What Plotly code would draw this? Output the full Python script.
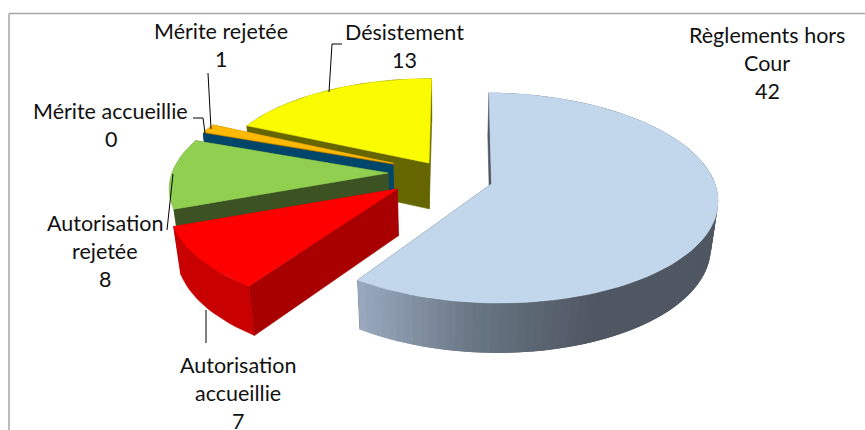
import math
import plotly.graph_objects as go

# ---- data, in the chart's clockwise order, starting at 12 o'clock
categories = ["Règlements hors\nCour", "Autorisation\naccueillie", "Autorisation\nrejetée",
              "Mérite accueillie", "Mérite rejetée", "Désistement"]
values = [42, 7, 8, 0, 1, 13]

# ---- per-slice styles
top_colors = ["#c3d7ec", "#ff0000", "#90cf50", "#00466a", "#ffb900", "#fbfb00"]
side_colors = ["#4f5762", "#a80000", "#3d5222", "#00466a", "#a07000", "#666600"]
rim_colors = [None, "#c80000", "#6a9a3a", "#00466a", "#a07000", "#666600"]
explode_u = [0.227, -0.187, -0.232, -0.212, -0.212, -0.050]
explode_v = [-0.067, -0.115, 0.039, 0.118, 0.135, 0.138]
radii = [0.985, 0.985, 0.965, 0.96, 0.96, 0.955]
turn = [1.0, 1.5, 1.0, 1.0, 1.0, 0.4]
paint_order = [5, 4, 3, 2, 1, 0]

# ---- projection of the pie plane onto the page
XC, YC, RX, RY, PERSP, HEIGHT, ZPERSP = 440, 177, 225, 103, 0.133, 47.5, 0.026

# ---- labels (centre x, first line y, line pitch)
label_pos = [(767, 35), (238, 365), (105, 223), (110.5, 111), (221, 31), (404, 32)]
LINE_PITCH = 28
FONT = "Lato"
FONT_SIZE = 21.5
leaders = [
    [(342, 44), (332, 44), (329, 92)],
    [(208, 73), (211, 129)],
    [(193, 118), (203, 118), (205, 133)],
    [(173, 174), (167, 230)],
    [(206, 310), (206, 343)],
]


def project(u, v, low=False):
    den = 1 + PERSP * v + (ZPERSP if low else 0)
    return XC + RX * u / den, YC + (-RY * v + (HEIGHT if low else 0)) / den


def rim_point(i, deg):
    a = math.radians(deg + turn[i])
    return explode_u[i] + radii[i] * math.sin(a), explode_v[i] + radii[i] * math.cos(a)


def poly(points, color, edge=0.6):
    xs = [p[0] for p in points] + [points[0][0]]
    ys = [p[1] for p in points] + [points[0][1]]
    return go.Scatter(x=xs, y=ys, mode="lines", fill="toself", fillcolor=color,
                      line=dict(color=color, width=edge), hoverinfo="skip", showlegend=False)


def big_wall_color(x):
    stops = [(360, (155, 171, 192)), (480, (105, 118, 132)), (600, (79, 87, 98)), (900, (79, 87, 98))]
    for (x0, c0), (x1, c1) in zip(stops, stops[1:]):
        if x <= x1:
            t = max(0, (x - x0) / (x1 - x0))
            return "rgb(%d,%d,%d)" % tuple(c0[k] + t * (c1[k] - c0[k]) for k in range(3))
    return "rgb(79,87,98)"


total = sum(values)
starts = []
acc = 0
for val in values:
    starts.append(acc)
    acc += val * 360 / total


def add_cut_face(fig, i, angle):
    apex = (explode_u[i], explode_v[i])
    r = rim_point(i, angle)
    fig.add_trace(poly([project(*r), project(*apex), project(*apex, low=True), project(*r, low=True)],
                       side_colors[i]))


fig = go.Figure()
for i in paint_order:
    a0, a1 = starts[i], starts[i] + values[i] * 360 / total
    steps = max(1, int((a1 - a0) / 2))
    angles = [a0 + (a1 - a0) * k / steps for k in range(steps + 1)]
    apex = (explode_u[i], explode_v[i])
    add_cut_face(fig, i, a1)
    if rim_colors[i]:
        upper = [project(*rim_point(i, a)) for a in angles]
        lower = [project(*rim_point(i, a), low=True) for a in reversed(angles)]
        fig.add_trace(poly(upper + lower, rim_colors[i]))
    else:
        for k in range(steps):
            b0, b1 = angles[k], angles[min(k + 2, steps)]
            sweep = [b0, (b0 + b1) / 2, b1]
            upper = [project(*rim_point(i, a)) for a in sweep]
            lower = [project(*rim_point(i, a), low=True) for a in reversed(sweep)]
            mid_x = project(*rim_point(i, angles[k]))[0]
            fig.add_trace(poly(upper + lower, big_wall_color(mid_x), edge=0))
    add_cut_face(fig, i, a0)
    if values[i] > 0:
        fig.add_trace(poly([project(*apex)] + [project(*rim_point(i, a)) for a in angles], top_colors[i]))

annotations = []
for label, val, (cx, cy) in zip(categories, values, label_pos):
    for n, line in enumerate(label.split("\n") + [str(val)]):
        annotations.append(dict(x=cx, y=cy + n * LINE_PITCH, text=line, showarrow=False,
                                xanchor="center", yanchor="middle",
                                font=dict(family=FONT, size=FONT_SIZE, color="#111111")))

shapes = [
    dict(type="line", x0=9, x1=865, y0=13.5, y1=13.5, line=dict(color="#a6a6a6", width=1.5)),
    dict(type="line", x0=9, x1=9, y0=13.5, y1=430, line=dict(color="#a6a6a6", width=1.5)),
]
for path in leaders:
    for (x0, y0), (x1, y1) in zip(path, path[1:]):
        shapes.append(dict(type="line", x0=x0, y0=y0, x1=x1, y1=y1, line=dict(color="#000000", width=1)))

fig.update_layout(
    width=865, height=430, margin=dict(l=0, r=0, t=0, b=0),
    paper_bgcolor="white", plot_bgcolor="white", showlegend=False,
    xaxis=dict(range=[0, 865], visible=False, fixedrange=True),
    yaxis=dict(range=[430, 0], visible=False, fixedrange=True),
    annotations=annotations, shapes=shapes,
)
fig.write_html("out.html", config={"displayModeBar": False},
               post_script="document.body.style.margin='0';document.body.style.overflow='hidden';")
